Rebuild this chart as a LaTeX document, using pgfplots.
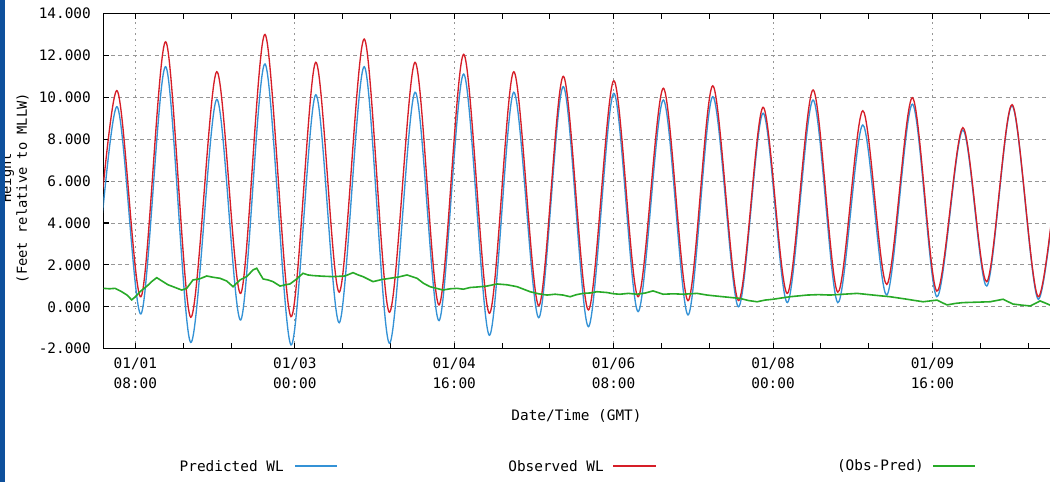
\documentclass[border=0pt]{standalone}
\usepackage{fontspec}
\setmainfont{DejaVu Sans Mono}
\usepackage{pgfplots}
\usepackage{pgfplotstable}
\pgfplotsset{compat=1.18}

\definecolor{predblue}{RGB}{52,146,214}
\definecolor{obsred}{RGB}{214,30,40}
\definecolor{diffgreen}{RGB}{40,170,40}
\definecolor{edgeblue}{RGB}{14,80,156}
\definecolor{gridgray}{RGB}{150,150,150}

% hours since 01/01 00:00 GMT, observed and predicted water level (ft, MLLW)
\pgfplotstableread{
hour    obs     pred
-3.00   -0.30   -1.50
3.31    10.32   9.55
9.41    0.48    -0.34
15.61   12.65   11.46
21.88   -0.50   -1.70
28.41   11.22   9.90
34.43   0.64    -0.63
40.53   13.00   11.59
47.05   -0.47   -1.82
53.25   11.67   10.12
59.17   0.70    -0.76
65.44   12.78   11.46
71.72   -0.26   -1.74
78.17   11.67   10.24
84.19   0.09    -0.66
90.39   12.05   11.11
96.81   -0.31   -1.36
102.94  11.22   10.24
109.21  0.05    -0.52
115.38  11.00   10.51
121.66  -0.15   -0.95
128.03  10.79   10.19
134.13  0.48    -0.23
140.48  10.43   9.87
146.68  0.29    -0.39
152.87  10.55   10.03
159.30  0.30    0.00
165.50  9.52    9.24
171.60  0.64    0.20
178.04  10.35   9.87
184.24  0.70    0.20
190.51  9.36    8.68
196.54  1.07    0.56
202.96  9.98    9.67
209.09  0.75    0.48
215.61  8.55    8.44
221.63  1.20    0.99
227.98  9.65    9.60
234.58  0.48    0.36
240.80  9.40    9.30
}\tidetable

% observed minus predicted
\pgfplotstableread{
hour    diff
0.00    0.88
1.50    0.86
2.89    0.88
4.40    0.74
5.90    0.56
7.08    0.33
8.10    0.50
9.16    0.72
10.92   0.99
12.20   1.22
13.35   1.39
14.10   1.30
14.93   1.20
16.20   1.05
17.44   0.96
19.62   0.80
20.88   0.88
22.46   1.28
24.22   1.34
25.90   1.47
27.48   1.41
29.24   1.36
30.92   1.23
32.50   0.96
34.25   1.28
35.93   1.44
37.52   1.76
38.44   1.84
40.03   1.33
41.30   1.28
42.53   1.20
44.29   0.99
45.60   1.05
46.80   1.09
48.48   1.33
50.06   1.60
51.30   1.52
52.57   1.49
55.00   1.46
57.59   1.44
60.60   1.47
62.61   1.63
63.90   1.52
65.12   1.44
67.63   1.20
69.80   1.30
71.89   1.36
74.00   1.42
76.16   1.52
78.67   1.36
80.30   1.12
81.93   0.96
85.19   0.80
87.00   0.86
88.71   0.88
90.30   0.84
91.97   0.92
94.10   0.95
96.24   0.99
98.75   1.09
101.25  1.05
103.76  0.96
105.40  0.84
107.03  0.72
109.20  0.62
111.29  0.56
113.30  0.60
115.31  0.56
117.06  0.48
118.70  0.58
120.33  0.64
122.10  0.66
123.84  0.72
126.35  0.68
128.00  0.62
129.61  0.60
131.70  0.64
133.88  0.60
136.00  0.66
137.89  0.76
140.40  0.60
143.00  0.62
145.42  0.60
148.93  0.64
151.44  0.56
153.40  0.52
155.46  0.48
157.60  0.44
159.72  0.40
161.80  0.30
163.99  0.24
166.00  0.32
168.00  0.36
170.10  0.42
172.27  0.48
174.40  0.52
176.54  0.56
179.40  0.58
182.31  0.56
185.70  0.60
189.08  0.64
191.10  0.60
193.10  0.56
195.20  0.52
197.37  0.48
199.50  0.42
201.63  0.36
203.60  0.30
205.65  0.24
207.40  0.28
209.16  0.32
210.40  0.20
211.67  0.09
213.70  0.16
215.68  0.20
219.10  0.22
222.46  0.24
224.10  0.30
225.72  0.36
227.00  0.24
228.23  0.13
230.40  0.08
232.50  0.04
233.80  0.16
235.01  0.28
236.30  0.18
237.52  0.08
240.03  0.10
}\difftable

\begin{document}
\begin{tikzpicture}[x=0.75pt, y=0.75pt]
\path[use as bounding box, clip] (0,0) rectangle (1050,482);
\fill[white] (0,0) rectangle (1050,482);

\begin{axis}[
    at={(77.625pt,99.98pt)}, anchor=south west,
    scale only axis,
    width=717.375pt, height=251.4pt,
    xmin=0, xmax=240,
    ymin=-2, ymax=14,
    xtick={8,48,88,128,168,208},
    xticklabels={{01/01\\08:00},{01/03\\00:00},{01/04\\16:00},{01/06\\08:00},{01/08\\00:00},{01/09\\16:00}},
    minor xtick={20,32,60,72,100,112,140,152,180,192,220,232},
    ytick={-2,0,2,4,6,8,10,12,14},
    yticklabel style={
        /pgf/number format/.cd, fixed, fixed zerofill, precision=3,
        assume math mode=true,
        /tikz/.cd, font=\fontsize{10.8}{13}\selectfont, xshift=-6pt},
    xticklabel style={align=center, font=\fontsize{10.8}{15}\selectfont, yshift=-3pt},
    major tick length=4pt, minor tick length=4pt,
    tick style={black, line width=0.8pt},
    axis line style={black, line width=1.1pt},
    xmajorgrids, ymajorgrids,
    major x grid style={gridgray, line width=0.7pt, dash pattern=on 1.2pt off 3pt},
    major y grid style={gridgray, line width=0.7pt, dash pattern=on 3pt off 2.5pt},
    every axis plot/.append style={line width=1pt},
]
\addplot[predblue, smooth, tension=0.5] table[x=hour, y=pred] {\tidetable};
\addplot[obsred, smooth, tension=0.5] table[x=hour, y=obs] {\tidetable};
\addplot[diffgreen, line width=1.2pt] table[x=hour, y=diff] {\difftable};
\end{axis}

\node[font=\fontsize{10.8}{13}\selectfont] at (576.5,66) {Date/Time (GMT)};

\node[anchor=east, inner sep=0pt, font=\fontsize{10.8}{13}\selectfont] at (284,16.3) {Predicted WL};
\draw[predblue, line width=1.5pt] (295,16.3) -- (337,16.3);
\node[anchor=east, inner sep=0pt, font=\fontsize{10.8}{13}\selectfont] at (604,16.3) {Observed WL};
\draw[obsred, line width=1.5pt] (613,16.3) -- (656,16.3);
\node[anchor=east, inner sep=0pt, font=\fontsize{10.8}{13}\selectfont] at (924,16.3) {(Obs-Pred)};
\draw[diffgreen, line width=1.5pt] (933,16.3) -- (975,16.3);

\node[rotate=90, font=\fontsize{10.3}{13}\selectfont] at (22.5,294) {(Feet relative to MLLW)};
\node[rotate=90, font=\fontsize{10.3}{13}\selectfont] at (7.5,304) {Height};
\fill[edgeblue] (0,0) rectangle (5,482);
\end{tikzpicture}
\end{document}
